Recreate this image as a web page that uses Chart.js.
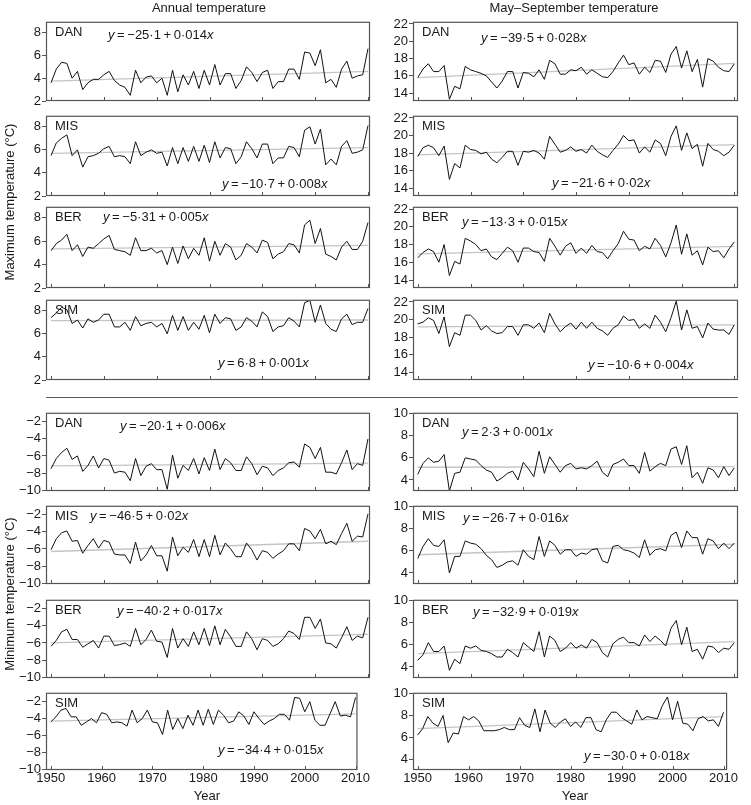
<!DOCTYPE html>
<html>
<head>
<meta charset="utf-8">
<script src="https://cdn.jsdelivr.net/npm/chart.js@4.4.1/dist/chart.umd.min.js"></script>
<style>
  body { margin: 0; background: #fff; }
  #page { position: relative; width: 751px; height: 805px; overflow: hidden;
          font-family: "Liberation Sans", Arial, Helvetica, sans-serif; color: #1a1a1a; }
  .pc { position: absolute; }
  .txt { position: absolute; font-size: 13px; line-height: 16px; white-space: nowrap; }
  .ctr { transform: translateX(-50%); }
  .rot { transform: translate(-50%, -50%) rotate(-90deg); }
  .sep { position: absolute; height: 1px; background: #555; }
</style>
</head>
<body>
<div id="page"></div>
<script>
// years on the x axis
const years = Array.from({ length: 61 }, (_, i) => 1950 + i);
const xTickYears = [1950, 1960, 1970, 1980, 1990, 2000, 2010];

// y tick labels per panel type
const maxAnnualTicks = [2, 4, 6, 8];
const maxMayTicks = [14, 16, 18, 20, 22];
const minAnnualTicks = [-10, -8, -6, -4, -2];
const minMayTicks = [4, 6, 8, 10];

// ---- maximum temperature, annual ----
const danMaxAnnual = [3.6, 4.8, 5.4, 5.3, 4.0, 4.6, 3.0, 3.6, 3.9, 3.9,
  4.3, 4.6, 3.8, 3.4, 3.2, 2.5, 4.7, 3.6, 4.1, 4.2,
  3.6, 4.0, 2.5, 4.7, 2.8, 4.3, 3.4, 4.6, 3.1, 4.7,
  3.4, 5.2, 3.4, 4.4, 4.4, 3.1, 3.8, 5.0, 4.5, 3.7,
  4.5, 4.7, 3.1, 3.7, 3.7, 4.8, 4.8, 3.9, 6.3, 6.2,
  5.1, 6.5, 3.6, 3.9, 3.2, 4.8, 5.5, 4.0, 4.2, 4.3, 6.6];
const misMaxAnnual = [5.5, 6.6, 7.0, 7.3, 5.5, 6.0, 4.5, 5.4, 5.5, 5.7,
  6.1, 6.3, 5.4, 5.5, 5.4, 4.8, 6.7, 5.5, 5.8, 6.0,
  5.7, 5.8, 4.6, 6.2, 4.8, 6.2, 5.0, 6.3, 5.0, 6.4,
  4.9, 6.7, 5.3, 6.2, 6.1, 4.8, 5.4, 6.7, 6.1, 5.3,
  6.5, 6.5, 4.8, 5.3, 5.3, 6.3, 6.2, 5.4, 7.7, 8.0,
  6.5, 7.8, 4.7, 5.2, 4.7, 6.3, 6.8, 5.7, 5.8, 6.0, 8.1];
const berMaxAnnual = [5.2, 5.8, 6.1, 6.6, 5.2, 5.7, 4.7, 5.5, 5.4, 5.8,
  6.2, 6.5, 5.3, 5.2, 5.1, 4.8, 6.3, 5.2, 5.2, 5.4,
  5.0, 5.2, 4.0, 5.5, 4.1, 5.6, 4.5, 5.4, 4.8, 6.3,
  4.3, 6.0, 4.8, 5.8, 5.5, 4.4, 4.8, 5.8, 5.5, 5.0,
  6.1, 5.9, 4.5, 4.9, 5.1, 5.8, 5.7, 5.0, 7.4, 7.8,
  5.8, 7.1, 4.9, 4.7, 4.4, 5.5, 6.0, 5.3, 5.3, 6.0, 7.6];
const simMaxAnnual = [7.4, 7.8, 8.3, 8.1, 6.9, 7.2, 6.5, 7.3, 7.0, 7.2,
  7.7, 7.7, 6.6, 6.6, 7.0, 6.3, 7.5, 6.7, 6.9, 7.0,
  6.6, 6.9, 6.0, 7.6, 6.3, 7.5, 6.3, 7.0, 6.4, 7.6,
  6.1, 7.7, 6.9, 7.4, 7.3, 6.3, 6.6, 7.4, 7.1, 6.6,
  7.9, 7.5, 6.2, 6.6, 6.7, 7.4, 7.1, 6.6, 8.7, 8.9,
  7.0, 8.5, 6.9, 6.4, 6.2, 7.3, 7.7, 6.8, 7.0, 7.0, 8.2];

// ---- maximum temperature, May-September ----
const danMaxMay = [15.8, 16.8, 17.4, 16.5, 16.5, 17.2, 13.3, 14.8, 14.5, 17.1,
  16.7, 16.5, 16.3, 16.0, 15.3, 14.6, 15.4, 16.5, 16.5, 14.6,
  16.4, 16.3, 15.9, 16.7, 15.6, 17.8, 17.4, 16.2, 16.2, 16.7,
  16.6, 17.0, 16.2, 16.7, 16.3, 15.9, 15.8, 16.5, 17.5, 18.4,
  17.3, 17.5, 16.2, 17.0, 16.4, 17.8, 17.7, 16.4, 18.5, 19.4,
  16.9, 18.9, 16.5, 17.9, 14.7, 18.0, 17.7, 17.0, 16.6, 16.5, 17.4];
const misMaxMay = [17.6, 18.6, 18.9, 18.6, 17.7, 18.8, 15.0, 16.8, 16.3, 18.9,
  18.4, 18.3, 17.9, 18.1, 17.3, 16.9, 17.5, 18.2, 18.2, 16.6,
  18.2, 18.1, 18.3, 18.0, 17.3, 19.9, 19.0, 18.1, 18.3, 18.7,
  18.2, 18.4, 18.0, 18.9, 18.2, 17.8, 17.5, 18.3, 19.0, 20.0,
  19.4, 19.5, 18.0, 18.7, 18.1, 19.5, 19.1, 17.7, 19.9, 21.1,
  18.3, 20.3, 18.5, 19.0, 16.5, 19.1, 18.4, 18.2, 17.7, 18.1, 18.9];
const berMaxMay = [16.5, 17.1, 17.5, 17.2, 16.0, 18.0, 14.5, 16.1, 15.8, 18.7,
  18.4, 18.0, 17.3, 17.5, 16.6, 16.3, 17.0, 17.7, 17.3, 16.0,
  17.6, 17.6, 17.2, 17.1, 16.1, 18.7, 17.8, 16.8, 17.8, 18.2,
  17.0, 17.6, 17.0, 17.9, 17.2, 17.1, 16.4, 17.3, 18.1, 19.5,
  18.6, 18.5, 17.3, 17.8, 17.5, 18.7, 17.9, 16.6, 18.2, 20.2,
  16.9, 19.2, 16.8, 17.3, 15.7, 17.7, 17.2, 17.3, 16.5, 17.5, 18.3];
const simMaxMay = [19.5, 19.7, 20.2, 19.9, 18.4, 20.3, 16.9, 18.5, 18.2, 20.5,
  20.5, 19.9, 18.8, 19.3, 18.7, 18.4, 18.5, 19.2, 19.2, 18.2,
  19.4, 19.4, 19.0, 19.6, 18.5, 20.7, 19.5, 18.6, 19.2, 19.6,
  18.9, 19.7, 19.0, 19.7, 19.0, 18.7, 18.2, 19.0, 19.4, 20.4,
  19.9, 20.0, 19.0, 19.5, 19.0, 20.5, 19.7, 18.6, 20.2, 22.1,
  18.8, 21.1, 19.0, 19.2, 17.9, 19.6, 18.9, 18.8, 18.8, 18.3, 19.4];

// ---- minimum temperature, annual ----
const danMinAnnual = [-7.5, -6.3, -5.6, -5.1, -6.4, -6.0, -7.8, -7.1, -6.0, -7.4,
  -6.3, -6.5, -8.0, -7.8, -7.9, -8.9, -6.3, -8.3, -7.2, -6.9,
  -7.6, -7.6, -9.9, -5.9, -8.6, -7.1, -7.7, -6.3, -8.1, -6.2,
  -7.7, -5.2, -7.6, -6.3, -6.8, -7.7, -7.7, -6.1, -6.9, -8.2,
  -7.2, -7.4, -8.3, -7.7, -7.4, -6.8, -6.7, -7.3, -4.6, -5.0,
  -6.3, -5.0, -7.9, -7.9, -8.1, -6.8, -5.3, -7.6, -6.9, -7.1, -4.0];
const misMinAnnual = [-6.1, -4.8, -4.1, -3.9, -5.1, -5.0, -6.5, -5.6, -4.8, -5.9,
  -5.0, -5.2, -6.6, -6.7, -6.7, -7.7, -5.2, -7.4, -6.7, -5.6,
  -6.8, -6.8, -8.6, -4.6, -6.8, -5.8, -6.4, -4.9, -6.9, -4.9,
  -6.9, -4.4, -6.7, -5.3, -6.0, -6.9, -6.9, -5.3, -6.1, -7.3,
  -6.2, -6.4, -7.1, -6.6, -6.2, -5.4, -5.4, -6.2, -3.6, -3.9,
  -4.8, -3.7, -5.4, -5.1, -5.5, -4.2, -3.0, -5.1, -4.5, -4.6, -1.9];
const berMinAnnual = [-6.4, -5.7, -4.7, -4.4, -5.6, -5.6, -6.5, -6.1, -5.7, -6.6,
  -5.2, -5.2, -6.3, -6.2, -6.0, -6.4, -4.3, -6.2, -5.6, -4.5,
  -5.8, -5.9, -7.7, -4.3, -6.6, -5.5, -6.4, -4.7, -6.2, -4.3,
  -6.3, -4.0, -6.2, -4.4, -5.3, -6.4, -6.4, -4.7, -5.5, -6.8,
  -5.5, -5.7, -6.4, -6.1, -5.5, -4.6, -4.9, -5.6, -3.0, -3.0,
  -4.3, -3.2, -6.0, -6.1, -6.6, -5.4, -4.1, -5.7, -5.2, -5.4, -3.0];
const simMinAnnual = [-4.4, -3.8, -3.0, -2.8, -3.8, -3.8, -4.8, -4.4, -4.0, -4.5,
  -3.3, -3.5, -4.5, -4.4, -4.5, -4.9, -3.0, -4.5, -4.0, -3.0,
  -4.4, -4.5, -5.9, -3.0, -5.3, -4.0, -5.2, -3.6, -4.8, -3.0,
  -4.8, -2.9, -4.7, -3.0, -3.6, -4.5, -4.3, -3.2, -3.7, -4.7,
  -3.2, -4.0, -4.7, -4.3, -4.0, -3.5, -3.5, -4.2, -1.5, -1.6,
  -3.2, -2.0, -4.2, -4.8, -4.8, -3.4, -2.0, -3.7, -3.6, -3.8, -1.5];

// ---- minimum temperature, May-September ----
const danMinMay = [4.5, 5.5, 6.0, 5.6, 5.7, 6.3, 3.0, 4.6, 4.7, 6.0,
  5.9, 5.8, 5.3, 4.9, 4.7, 3.9, 4.2, 4.6, 4.8, 4.0,
  5.6, 5.0, 4.3, 6.6, 4.6, 6.1, 5.4, 4.7, 5.3, 5.5,
  5.0, 5.1, 5.0, 5.3, 5.7, 4.7, 4.3, 5.4, 5.6, 5.9,
  5.3, 5.3, 4.6, 6.5, 4.8, 5.2, 5.5, 5.3, 6.8, 7.0,
  5.4, 7.1, 4.2, 4.7, 3.7, 5.1, 4.9, 4.2, 5.2, 4.4, 5.1];
const misMinMay = [5.3, 6.4, 7.1, 6.5, 6.4, 7.0, 4.0, 5.5, 5.5, 6.9,
  6.7, 6.6, 6.2, 5.6, 5.2, 4.5, 4.7, 5.0, 5.1, 4.7,
  6.1, 5.5, 5.2, 7.3, 5.5, 6.9, 6.5, 5.7, 6.1, 6.1,
  5.5, 5.8, 5.7, 6.1, 6.2, 5.1, 4.9, 6.4, 6.5, 6.1,
  6.0, 5.8, 5.4, 7.0, 5.6, 6.1, 6.2, 6.0, 7.4, 7.7,
  6.3, 7.8, 7.2, 7.2, 5.7, 7.1, 6.9, 6.2, 6.7, 6.2, 6.7];
const berMinMay = [4.6, 5.1, 6.2, 5.4, 5.4, 5.9, 3.7, 4.7, 4.3, 5.9,
  5.7, 5.9, 5.5, 5.4, 5.2, 4.9, 4.9, 5.6, 5.3, 4.9,
  6.2, 5.8, 5.4, 7.2, 4.9, 6.8, 6.4, 5.4, 5.7, 6.2,
  5.7, 6.0, 5.7, 6.5, 6.2, 5.3, 4.9, 6.1, 6.5, 6.7,
  6.2, 6.2, 5.9, 6.9, 6.3, 6.8, 6.4, 5.9, 7.5, 8.2,
  6.0, 7.6, 5.4, 5.6, 4.7, 5.9, 5.8, 5.3, 5.7, 5.6, 6.2];
const simMinMay = [6.2, 6.8, 7.9, 7.3, 7.0, 8.0, 5.5, 6.4, 6.3, 7.9,
  7.6, 7.9, 7.5, 6.6, 6.6, 6.6, 6.7, 6.9, 6.7, 6.7,
  7.8, 7.1, 6.9, 8.6, 6.5, 8.5, 7.3, 6.9, 7.4, 7.7,
  7.0, 7.4, 6.9, 7.8, 7.8, 6.7, 6.5, 7.6, 8.3, 8.3,
  7.8, 7.5, 7.2, 8.5, 7.6, 7.9, 7.8, 7.7, 8.9, 9.7,
  7.6, 9.3, 7.3, 7.2, 6.6, 7.7, 7.9, 7.5, 7.6, 7.0, 8.3];

// trend lines, value at 1950 and at 2010
const trendYears = [1950, 2010];
const danMaxAnnualTrend = [3.75, 4.6];
const misMaxAnnualTrend = [5.7, 6.2];
const berMaxAnnualTrend = [5.35, 5.65];
const simMaxAnnualTrend = [7.15, 7.2];
const danMaxMayTrend = [15.8, 17.45];
const misMaxMayTrend = [17.8, 18.95];
const berMaxMayTrend = [16.95, 17.8];
const simMaxMayTrend = [19.15, 19.4];
const danMinAnnualTrend = [-7.15, -6.85];
const misMinAnnualTrend = [-6.3, -5.1];
const berMinAnnualTrend = [-6.0, -5.0];
const simMinAnnualTrend = [-4.3, -3.45];
const danMinMayTrend = [5.15, 5.2];
const misMinMayTrend = [5.65, 6.6];
const berMinMayTrend = [5.2, 6.3];
const simMinMayTrend = [6.8, 7.9];

// regression equations as printed
const equations = {
  danMaxAnnual: "−25·1 + 0·014", misMaxAnnual: "−10·7 + 0·008",
  berMaxAnnual: "−5·31 + 0·005", simMaxAnnual: "6·8 + 0·001",
  danMaxMay: "−39·5 + 0·028", misMaxMay: "−21·6 + 0·02",
  berMaxMay: "−13·3 + 0·015", simMaxMay: "−10·6 + 0·004",
  danMinAnnual: "−20·1 + 0·006", misMinAnnual: "−46·5 + 0·02",
  berMinAnnual: "−40·2 + 0·017", simMinAnnual: "−34·4 + 0·015",
  danMinMay: "2·3 + 0·001", misMinMay: "−26·7 + 0·016",
  berMinMay: "−32·9 + 0·019", simMinMay: "−30·0 + 0·018"
};

// ---- layout ----
const cols = {
  L: { left: 0, axisW: 46, frameRight: 370, xMin: 1949.05, xMax: 2010.38 },
  R: { left: 375, axisW: 38, frameRight: 738, xMin: 1949.1, xMax: 2010.7 }
};
const kinds = {
  maxAnnual: { ticks: maxAnnualTicks, min: 2, max: 8.95 },
  maxMay: { ticks: maxMayTicks, min: 13.1, max: 22.25 },
  minAnnual: { ticks: minAnnualTicks, min: -10.1, max: -0.95 },
  minMay: { ticks: minMayTicks, min: 3.0, max: 10.08 }
};
const maxTops = [21, 115, 206, 299], maxBottoms = [101, 196, 288, 380];
const minTops = [412, 505, 599, 692], minBottoms = [491, 584, 678, 770];

const stations = ["DAN", "MIS", "BER", "SIM"];
const series = {
  maxAnnual: [danMaxAnnual, misMaxAnnual, berMaxAnnual, simMaxAnnual],
  maxMay: [danMaxMay, misMaxMay, berMaxMay, simMaxMay],
  minAnnual: [danMinAnnual, misMinAnnual, berMinAnnual, simMinAnnual],
  minMay: [danMinMay, misMinMay, berMinMay, simMinMay]
};
const trends = {
  maxAnnual: [danMaxAnnualTrend, misMaxAnnualTrend, berMaxAnnualTrend, simMaxAnnualTrend],
  maxMay: [danMaxMayTrend, misMaxMayTrend, berMaxMayTrend, simMaxMayTrend],
  minAnnual: [danMinAnnualTrend, misMinAnnualTrend, berMinAnnualTrend, simMinAnnualTrend],
  minMay: [danMinMayTrend, misMinMayTrend, berMinMayTrend, simMinMayTrend]
};
// equation text spots: [left, centre y]
const eqPos = {
  maxAnnual: [[108, 35], [222, 184], [103, 217], [218, 363]],
  maxMay: [[481, 38], [552, 183], [462, 222], [588, 365]],
  minAnnual: [[120, 426], [90, 516], [117, 611], [218, 750]],
  minMay: [[462, 432], [463, 518], [473, 612], [584, 756]]
};
const panelSets = [
  { kind: "maxAnnual", col: "L", tops: maxTops, bottoms: maxBottoms, key: "MaxAnnual" },
  { kind: "maxMay", col: "R", tops: maxTops, bottoms: maxBottoms, key: "MaxMay" },
  { kind: "minAnnual", col: "L", tops: minTops, bottoms: minBottoms, key: "MinAnnual" },
  { kind: "minMay", col: "R", tops: minTops, bottoms: minBottoms, key: "MinMay" }
];

const page = document.getElementById("page");
const FONT = '"Liberation Sans", Arial, Helvetica, sans-serif';
Chart.defaults.font.family = FONT;
Chart.defaults.font.size = 13;
Chart.defaults.color = "#1a1a1a";

function addText(html, x, y, cls) {
  const d = document.createElement("div");
  d.className = "txt " + (cls || "");
  d.style.left = x + "px";
  d.style.top = (cls === "rot" ? y : y - 8) + "px";
  d.innerHTML = html;
  page.appendChild(d);
}

const framePlugin = {
  id: "frame",
  afterDatasetsDraw(chart) {
    const { ctx, chartArea: a, scales } = chart;
    ctx.save();
    ctx.strokeStyle = "#555";
    ctx.lineWidth = 1.2;
    ctx.strokeRect(a.left + 0.5, a.top + 0.5, a.right - a.left - 1, a.bottom - a.top - 1);
    ctx.lineWidth = 1;
    scales.x.ticks.forEach((t) => {
      const px = Math.round(scales.x.getPixelForValue(t.value)) + 0.5;
      ctx.beginPath();
      ctx.moveTo(px, a.bottom);
      ctx.lineTo(px, a.bottom - 4);
      ctx.stroke();
    });
    ctx.restore();
  }
};

const PAD_TOP = 8;

panelSets.forEach((set) => {
  const col = cols[set.col];
  const kind = kinds[set.kind];
  stations.forEach((st, i) => {
    const isBottom = i === 3 && set.kind.startsWith("min");
    const top = set.tops[i], bottom = set.bottoms[i];
    const xAxisH = isBottom ? 22 : 9;
    const w = col.frameRight - col.left + 1;
    const h = PAD_TOP + (bottom - top) + xAxisH;

    const box = document.createElement("div");
    box.className = "pc";
    box.style.left = col.left + "px";
    box.style.top = (top - PAD_TOP) + "px";
    const canvas = document.createElement("canvas");
    canvas.width = w;
    canvas.height = h;
    canvas.style.width = w + "px";
    canvas.style.height = h + "px";
    box.appendChild(canvas);
    page.appendChild(box);

    const vals = series[set.kind][i];
    const tr = trends[set.kind][i];

    new Chart(canvas.getContext("2d"), {
      type: "line",
      data: {
        datasets: [
          {
            data: years.map((x, k) => ({ x, y: vals[k] })),
            borderColor: "#111",
            borderWidth: 1,
            pointRadius: 0,
            tension: 0,
            order: 0
          },
          {
            data: trendYears.map((x, k) => ({ x, y: tr[k] })),
            borderColor: "#c4c4c4",
            borderWidth: 1.3,
            pointRadius: 0,
            order: 1
          }
        ]
      },
      options: {
        responsive: false,
        animation: false,
        devicePixelRatio: 1,
        layout: { padding: { top: PAD_TOP, right: 1, left: 0, bottom: 0 } },
        plugins: { legend: { display: false }, tooltip: { enabled: false } },
        scales: {
          x: {
            type: "linear",
            min: col.xMin,
            max: col.xMax,
            afterBuildTicks: (s) => { s.ticks = xTickYears.map((v) => ({ value: v })); },
            afterFit: (s) => { s.height = xAxisH; },
            grid: { display: false, drawTicks: false },
            border: { display: false },
            ticks: {
              display: isBottom,
              padding: 1,
              maxRotation: 0,
              autoSkip: false,
              color: "#1a1a1a",
              callback: (v) => String(v)
            }
          },
          y: {
            min: kind.min,
            max: kind.max,
            afterBuildTicks: (s) => { s.ticks = kind.ticks.map((v) => ({ value: v })); },
            afterFit: (s) => { s.width = col.axisW; },
            grid: { drawOnChartArea: false, drawTicks: true, tickLength: 4, color: "#555" },
            border: { display: false },
            ticks: {
              padding: 1,
              color: "#1a1a1a",
              callback: (v) => String(v).replace("-", "−")
            }
          }
        }
      },
      plugins: [framePlugin]
    });

    // station label and equation
    addText(st, col.left + col.axisW + 9, top + 11);
    const eq = equations[st.toLowerCase() + set.key];
    const p = eqPos[set.kind][i];
    addText("<i>y</i>\u2009=\u2009" + eq.replace(" + ", "\u2009+\u2009") + "<i>x</i>", p[0], p[1]);
  });
});

// column titles, axis titles, separator
addText("Annual temperature", 209, 8, "ctr");
addText("May–September temperature", 574, 8, "ctr");
addText("Year", 207, 796, "ctr");
addText("Year", 575, 796, "ctr");
addText("Maximum temperature (°C)", 10, 202, "rot");
addText("Minimum temperature (°C)", 10, 594, "rot");

const sep = document.createElement("div");
sep.className = "sep";
sep.style.left = "46px";
sep.style.width = "692px";
sep.style.top = "397px";
page.appendChild(sep);
</script>
</body>
</html>
